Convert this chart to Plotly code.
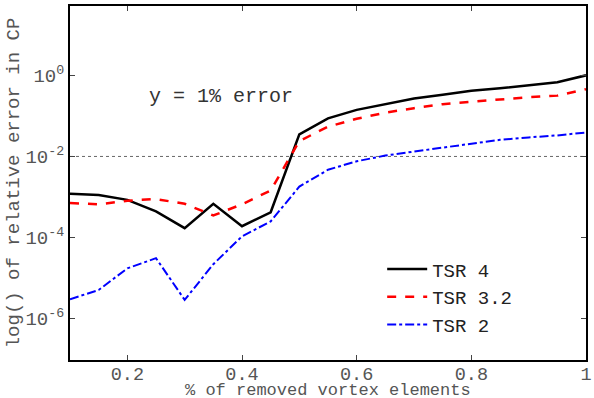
import plotly.graph_objects as go

removed = [0.1, 0.15, 0.2, 0.25, 0.3, 0.35, 0.4, 0.45, 0.5, 0.55,
           0.6, 0.65, 0.7, 0.75, 0.8, 0.85, 0.9, 0.95, 1.0]
tsr4 = [1.2e-3, 1.12e-3, 8.5e-4, 4.4e-4, 1.7e-4, 6.8e-4, 1.9e-4, 4.2e-4, 3.5e-2, 8.7e-2,
        0.141, 0.195, 0.269, 0.331, 0.417, 0.479, 0.562, 0.676, 1.0]
tsr32 = [7.1e-4, 6.6e-4, 8.1e-4, 8.9e-4, 6.8e-4, 3.5e-4, 6.6e-4, 1.45e-3, 2.4e-2, 5.4e-2,
         8.5e-2, 0.12, 0.155, 0.195, 0.224, 0.257, 0.288, 0.316, 0.457]
tsr2 = [3.0e-6, 5.1e-6, 1.74e-5, 3.1e-5, 2.9e-6, 2.2e-5, 1.07e-4, 2.5e-4, 1.8e-3, 4.7e-3,
        7.6e-3, 1.05e-2, 1.32e-2, 1.66e-2, 2.1e-2, 2.57e-2, 2.95e-2, 3.3e-2, 3.9e-2]
threshold_x = [0.1, 1.0]
threshold_y = [0.01, 0.01]
ytick_vals = [1, 1e-2, 1e-4, 1e-6]
ytick_text = ["10<sup>0</sup>", "10<sup>-2</sup>", "10<sup>-4</sup>", "10<sup>-6</sup>"]
xtick_vals = [0.2, 0.4, 0.6, 0.8, 1.0]
xtick_text = ["0.2", "0.4", "0.6", "0.8", "1"]

FONT = "Liberation Mono, Courier New, monospace"

fig = go.Figure()
fig.add_trace(go.Scatter(x=threshold_x, y=threshold_y, mode="lines", showlegend=False,
                         line=dict(color="#666666", width=1, dash="dot"), hoverinfo="skip"))
fig.add_trace(go.Scatter(x=removed, y=tsr4, mode="lines", name="TSR 4",
                         line=dict(color="black", width=2.5)))
fig.add_trace(go.Scatter(x=removed, y=tsr32, mode="lines", name="TSR 3.2",
                         line=dict(color="#ff0000", width=2.5, dash="dash")))
fig.add_trace(go.Scatter(x=removed, y=tsr2, mode="lines", name="TSR 2",
                         line=dict(color="#0000ff", width=2, dash="dashdot")))

fig.add_annotation(x=0.363, y=-0.52, xref="x", yref="y", text="y = 1% error",
                   showarrow=False, font=dict(family=FONT, size=20, color="#333333"))
fig.add_annotation(x=0.5, y=-0.085, xref="paper", yref="paper", yanchor="middle",
                   text="% of removed vortex elements", showarrow=False,
                   font=dict(family=FONT, size=17, color="#555555"))

fig.update_layout(
    width=594, height=398,
    margin=dict(l=70, r=2, t=6, b=38),
    paper_bgcolor="white", plot_bgcolor="white",
    font=dict(family=FONT, color="#555555"),
    legend=dict(x=0.605, y=0.31, xanchor="left", yanchor="top",
                bgcolor="rgba(0,0,0,0)", font=dict(family=FONT, size=19, color="#222222"),
                tracegroupgap=0, itemwidth=40),
    showlegend=True,
)
fig.update_xaxes(range=[0.1, 1.0], tickvals=xtick_vals, ticktext=xtick_text,
                 ticklabeloverflow="allow", ticklabelstandoff=-4,
                 showgrid=False, zeroline=False, showline=True, linecolor="black", linewidth=2,
                 mirror="ticks", ticks="inside", ticklen=5, tickcolor="#444444",
                 tickfont=dict(family=FONT, size=18.5, color="#555555"))
fig.update_yaxes(type="log", range=[-7.02, 1.71], tickvals=ytick_vals, ticktext=ytick_text,
                 showgrid=False, zeroline=False, showline=True, linecolor="black", linewidth=2,
                 mirror="ticks", ticks="inside", ticklen=5, tickcolor="#444444",
                 tickfont=dict(family=FONT, size=19, color="#555555"),
                 title=dict(text="log() of relative error in CP", standoff=0,
                            font=dict(family=FONT, size=19, color="#555555")))

fig.write_html("out.html")
